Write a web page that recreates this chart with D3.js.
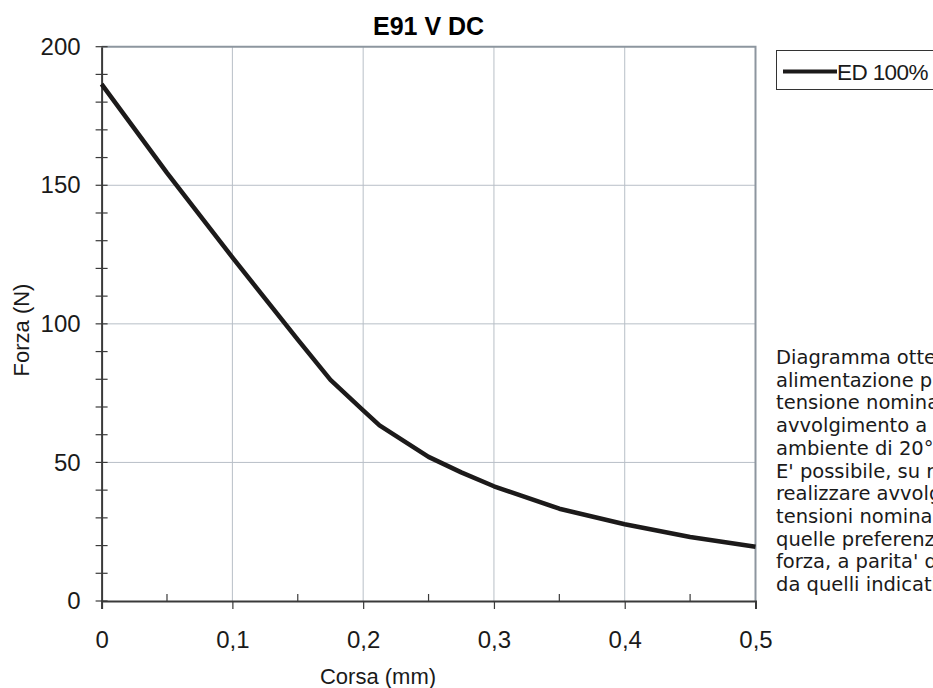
<!DOCTYPE html>
<html>
<head>
<meta charset="utf-8">
<script src="https://cdn.jsdelivr.net/npm/d3@7"></script>
<style>
  html, body { margin: 0; padding: 0; background: #fff; overflow: hidden; }
  svg { display: block; }
</style>
</head>
<body>
<div id="chart"></div>
<script>
var width = 933, height = 688

// dati
const corsa = [0, 0.05, 0.1, 0.15, 0.175, 0.2, 0.2125, 0.25, 0.275, 0.3, 0.35, 0.4, 0.45, 0.5]
const forza = [186.5, 154.5, 124, 94.3, 79.8, 68.8, 63.4, 52, 46.4, 41.4, 33.3, 27.7, 23.1, 19.6]
const xTicks = [0, 0.1, 0.2, 0.3, 0.4, 0.5]
const xMinor = [0.05, 0.15, 0.25, 0.35, 0.45]
const yTicks = [0, 50, 100, 150, 200]
const yMinor = d3.range(0, 201, 10)
const legendLabel = "ED 100%"
const noteLines = [
	"Diagramma ottenuto con",
	"alimentazione pari alla",
	"tensione nominale,",
	"avvolgimento a temperatura",
	"ambiente di 20°C.",
	"E' possibile, su richiesta,",
	"realizzare avvolgimenti per",
	"tensioni nominali diverse da",
	"quelle preferenziali, con valori di",
	"forza, a parita' di corsa, diversi",
	"da quelli indicati."
]

const margin = {left: 101.6, top: 46.7, right: width - 755.5, bottom: height - 601}

const svg = d3.select('#chart')
	.append('svg')
	.attr('width', width)
	.attr('height', height)
	.style('font-family', '"Liberation Sans", Arial, sans-serif')

const it = d3.formatLocale({decimal: ",", thousands: ".", grouping: [3], currency: ["", "€"]})
const fmt = it.format("~g")

const x = d3.scaleLinear().domain([0, 0.5]).range([margin.left, width - margin.right])
const y = d3.scaleLinear().domain([0, 200]).range([height - margin.bottom, margin.top])

// griglia
svg.append("g")
	.selectAll("line")
	.data(xTicks.slice(1, -1))
	.join("line")
	.attr("x1", d => x(d)).attr("x2", d => x(d))
	.attr("y1", y(0)).attr("y2", y(200))
	.attr("stroke", "#b8bfc7").attr("stroke-width", 1)

svg.append("g")
	.selectAll("line")
	.data(yTicks.slice(1, -1))
	.join("line")
	.attr("x1", x(0)).attr("x2", x(0.5))
	.attr("y1", d => y(d)).attr("y2", d => y(d))
	.attr("stroke", "#b8bfc7").attr("stroke-width", 1)

// bordo superiore e destro
svg.append("path")
	.attr("d", `M${x(0)},${y(200)}H${x(0.5)}V${y(0)}`)
	.attr("fill", "none")
	.attr("stroke", "#8d969f")
	.attr("stroke-width", 2)

// asse x
const xAxis = svg.append("g")
	.attr("transform", `translate(0,${y(0)})`)
	.call(d3.axisBottom(x).tickValues(xTicks).tickFormat(fmt).tickSize(8).tickPadding(22))
xAxis.select(".domain").attr("stroke", "#3a3a3a").attr("stroke-width", 2)
xAxis.selectAll(".tick line").attr("stroke", "#3a3a3a").attr("stroke-width", 1.2)
xAxis.selectAll(".tick text").attr("font-size", 24).attr("fill", "#1a1a1a")
	.attr("font-family", '"Liberation Sans", Arial, sans-serif')

svg.append("g")
	.selectAll("line")
	.data(xMinor)
	.join("line")
	.attr("x1", d => x(d)).attr("x2", d => x(d))
	.attr("y1", y(0)).attr("y2", y(0) - 7)
	.attr("stroke", "#3a3a3a").attr("stroke-width", 1.2)

// asse y
const yAxis = svg.append("g")
	.attr("transform", `translate(${x(0)},0)`)
	.call(d3.axisLeft(y).tickValues(yTicks).tickSize(0).tickPadding(21))
yAxis.select(".domain").attr("stroke", "#3a3a3a").attr("stroke-width", 2)
yAxis.selectAll(".tick text").attr("font-size", 24).attr("fill", "#1a1a1a")
	.attr("font-family", '"Liberation Sans", Arial, sans-serif')

svg.append("g")
	.selectAll("line")
	.data(yMinor)
	.join("line")
	.attr("x1", x(0) - 6).attr("x2", x(0) + 6)
	.attr("y1", d => y(d)).attr("y2", d => y(d))
	.attr("stroke", "#3a3a3a").attr("stroke-width", 1.2)

// curva
const line = d3.line()
	.x((d, i) => x(corsa[i]))
	.y(d => y(d))

svg.append("path")
	.datum(forza)
	.attr("d", line)
	.attr("fill", "none")
	.attr("stroke", "#1c1a1a")
	.attr("stroke-width", 4.5)
	.attr("stroke-linejoin", "round")

// titoli
svg.append("text")
	.attr("x", (x(0) + x(0.5)) / 2)
	.attr("y", 35)
	.attr("text-anchor", "middle")
	.attr("font-size", 25)
	.attr("font-weight", "bold")
	.text("E91 V DC")

svg.append("text")
	.attr("x", 378)
	.attr("y", 684)
	.attr("text-anchor", "middle")
	.attr("font-size", 22)
	.attr("fill", "#1a1a1a")
	.text("Corsa (mm)")

svg.append("text")
	.attr("transform", `translate(29,330) rotate(-90)`)
	.attr("text-anchor", "middle")
	.attr("font-size", 22)
	.attr("fill", "#1a1a1a")
	.text("Forza (N)")

// legenda
const lg = svg.append("g")
lg.append("rect")
	.attr("x", 776.5).attr("y", 50.5)
	.attr("width", 200).attr("height", 39)
	.attr("fill", "#fff")
	.attr("stroke", "#333").attr("stroke-width", 1)
lg.append("line")
	.attr("x1", 783).attr("x2", 837)
	.attr("y1", 71.5).attr("y2", 71.5)
	.attr("stroke", "#1c1a1a").attr("stroke-width", 4)
lg.append("text")
	.attr("x", 837).attr("y", 80)
	.attr("font-size", 22.5)
	.attr("letter-spacing", -0.6)
	.attr("fill", "#1a1a1a")
	.text(legendLabel)

// nota (tagliata dal bordo destro come nell'originale)
svg.append("g")
	.selectAll("text")
	.data(noteLines)
	.join("text")
	.attr("x", 776)
	.attr("y", (d, i) => 364 + i * 22.7)
	.attr("font-family", '"DejaVu Sans", Verdana, sans-serif')
	.attr("font-size", 19.5)
	.attr("fill", "#1a1a1a")
	.text(d => d)
</script>
</body>
</html>
